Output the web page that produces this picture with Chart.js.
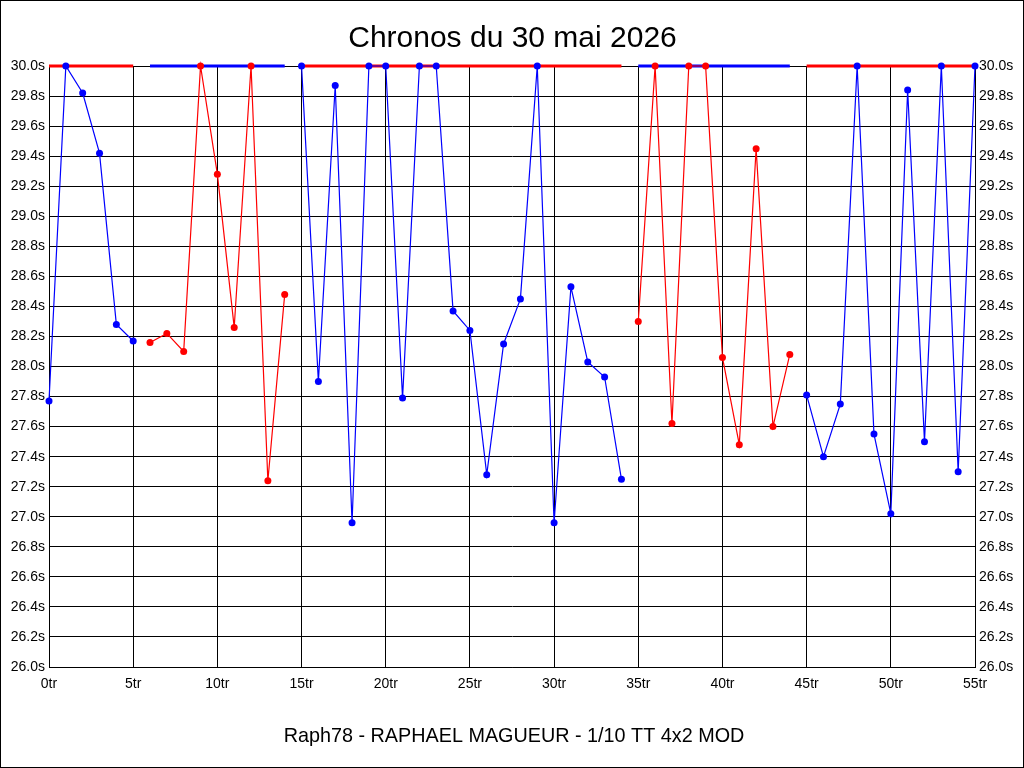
<!DOCTYPE html>
<html>
<head>
<meta charset="utf-8">
<script src="https://cdn.jsdelivr.net/npm/chart.js@4"></script>
<style>
  html, body { margin: 0; padding: 0; background: #fff; }
  canvas { display: block; }
</style>
</head>
<body>
<canvas id="chronoChart" width="1024" height="768"></canvas>
<script>
const chartTitle = 'Chronos du 30 mai 2026';
const pilotLabel = 'Raph78 - RAPHAEL MAGUEUR - 1/10 TT 4x2 MOD';

// temps au tour (s), tour 0 a 55
const lapTimes = [
  27.77, 30.00, 29.82, 29.42, 28.28, 28.17,
  28.16, 28.22, 28.10, 30.00, 29.28, 28.26, 30.00, 27.24, 28.48,
  30.00, 27.90, 29.87, 26.96, 30.00, 30.00, 27.79, 30.00, 30.00, 28.37,
  28.24, 27.28, 28.15, 28.45, 30.00, 26.96, 28.53, 28.03, 27.93, 27.25,
  28.30, 30.00, 27.62, 30.00, 30.00, 28.06, 27.48, 29.45, 27.60, 28.08,
  27.81, 27.40, 27.75, 30.00, 27.55, 27.02, 29.84, 27.50, 30.00, 27.30, 30.00
];

// relais : premier et dernier tour
const stintStart = [0, 6, 15, 35, 45];
const stintEnd = [5, 14, 34, 44, 55];
const stintIsRed = [false, true, false, true, false];

const yTicksMin = 26.0;
const yTicksMax = 30.0;

function stintSeries(red, valueFn) {
  const pts = [];
  stintStart.forEach((s, i) => {
    if (stintIsRed[i] !== red) return;
    for (let lap = s; lap <= stintEnd[i]; lap++) pts.push({ x: lap, y: valueFn(lap) });
    pts.push({ x: stintEnd[i] + 0.5, y: null });
  });
  return pts;
}

const BLUE = '#0000ff';
const RED = '#ff0000';

const frame = {
  id: 'frame',
  beforeDraw(chart) {
    const c = chart.ctx;
    c.save();
    c.fillStyle = '#fff';
    c.fillRect(0, 0, chart.width, chart.height);
    c.restore();
  },
  afterDraw(chart) {
    const c = chart.ctx;
    c.save();
    c.strokeStyle = '#000';
    c.lineWidth = 1;
    c.strokeRect(0.5, 0.5, chart.width - 1, chart.height - 1);
    c.fillStyle = '#000';
    c.textAlign = 'center';
    c.textBaseline = 'alphabetic';
    c.font = '30px "Liberation Sans", Arial, sans-serif';
    c.fillText(chartTitle, 512.5, 47);
    c.font = '19.8px "Liberation Sans", Arial, sans-serif';
    c.fillText(pilotLabel, 514, 742);
    c.restore();
  }
};

const tickFont = { family: '"Liberation Sans", Arial, sans-serif', size: 14 };

new Chart(document.getElementById('chronoChart'), {
  type: 'line',
  data: {
    datasets: [
      {
        label: 'barre rouge',
        data: stintSeries(false, () => yTicksMax),
        borderColor: RED,
        borderWidth: 3,
        pointRadius: 0,
        spanGaps: false,
        clip: 4,
        order: 3
      },
      {
        label: 'barre bleue',
        data: stintSeries(true, () => yTicksMax),
        borderColor: BLUE,
        borderWidth: 3,
        pointRadius: 0,
        spanGaps: false,
        clip: 4,
        order: 3
      },
      {
        label: 'tours bleus',
        data: stintSeries(false, lap => lapTimes[lap]),
        borderColor: BLUE,
        backgroundColor: BLUE,
        pointBackgroundColor: BLUE,
        pointBorderWidth: 0,
        borderWidth: 1.2,
        pointRadius: 3.5,
        tension: 0,
        spanGaps: false,
        clip: 5,
        order: 1
      },
      {
        label: 'tours rouges',
        data: stintSeries(true, lap => lapTimes[lap]),
        borderColor: RED,
        backgroundColor: RED,
        pointBackgroundColor: RED,
        pointBorderWidth: 0,
        borderWidth: 1.2,
        pointRadius: 3.5,
        tension: 0,
        spanGaps: false,
        clip: 5,
        order: 2
      }
    ]
  },
  options: {
    responsive: false,
    animation: false,
    devicePixelRatio: 1,
    layout: { padding: { top: 66, left: 0, right: 0, bottom: 0 } },
    plugins: {
      legend: { display: false },
      tooltip: { enabled: false }
    },
    scales: {
      x: {
        type: 'linear',
        min: 0,
        max: 55,
        afterFit: s => { s.height = 101; },
        afterBuildTicks: s => { s.ticks = []; for (let v = 0; v <= 55; v += 5) s.ticks.push({ value: v }); },
        grid: { color: '#000', lineWidth: 1, drawTicks: false },
        border: { color: '#000', width: 1 },
        ticks: { font: tickFont, color: '#000', padding: 9, maxRotation: 0, callback: v => v + 'tr' }
      },
      y: {
        position: 'left',
        min: yTicksMin,
        max: yTicksMax,
        afterFit: s => { s.width = 49; },
        afterBuildTicks: s => { s.ticks = []; for (let i = 0; i <= 20; i++) s.ticks.push({ value: yTicksMin + i * 0.2 }); },
        grid: { color: '#000', lineWidth: 1, drawTicks: false },
        border: { color: '#000', width: 1 },
        ticks: { font: tickFont, color: '#000', padding: 4, callback: v => v.toFixed(1) + 's' }
      },
      y2: {
        position: 'right',
        min: yTicksMin,
        max: yTicksMax,
        afterFit: s => { s.width = 49; },
        afterBuildTicks: s => { s.ticks = []; for (let i = 0; i <= 20; i++) s.ticks.push({ value: yTicksMin + i * 0.2 }); },
        grid: { display: false, drawTicks: false },
        border: { color: '#000', width: 1 },
        ticks: { font: tickFont, color: '#000', padding: 4, callback: v => v.toFixed(1) + 's' }
      }
    }
  },
  plugins: [frame]
});
</script>
</body>
</html>
